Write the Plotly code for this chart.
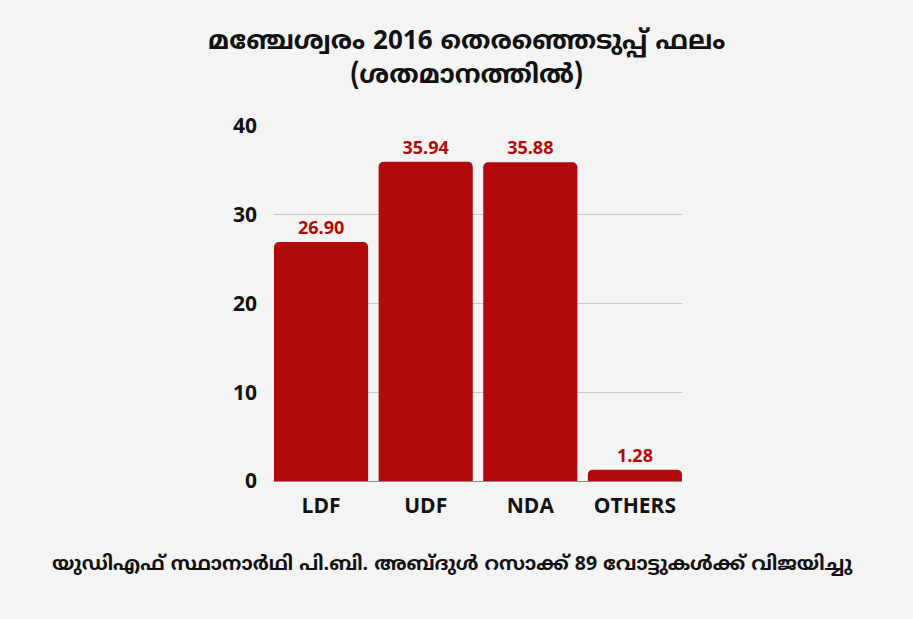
import plotly.graph_objects as go

categories = ["LDF", "UDF", "NDA", "OTHERS"]
values = [26.90, 35.94, 35.88, 1.28]
value_labels = ["26.90", "35.94", "35.88", "1.28"]
y_ticks = [0, 10, 20, 30, 40]

title_line1 = "മഞ്ചേശ്വരം 2016 തെരഞ്ഞെടുപ്പ് ഫലം"
title_line2 = "(ശതമാനത്തിൽ)"
footer = "യുഡിഎഫ് സ്ഥാനാർഥി പി.ബി. അബ്ദുൾ റസാക്ക് 89 വോട്ടുകൾക്ക് വിജയിച്ചു"

RED = "#b20a0a"
ml_font = "Noto Sans Malayalam, Noto Sans, Open Sans, sans-serif"

L, R, T, B = 274, 231, 125, 138
PW = 913 - L - R

fig = go.Figure(
    go.Bar(
        x=categories,
        y=values,
        marker=dict(color=RED, line=dict(width=0)),
        text=value_labels,
        textposition="outside",
        textfont=dict(family="Open Sans", size=18, color=RED, weight="bold"),
        cliponaxis=False,
    )
)

fig.update_layout(
    width=913,
    height=619,
    margin=dict(l=L, r=R, t=T, b=B),
    paper_bgcolor="#f4f4f4",
    plot_bgcolor="rgba(0,0,0,0)",
    bargap=0.1,
    barcornerradius=5,
    showlegend=False,
    font=dict(family="Open Sans", color="#111111"),
    xaxis=dict(
        range=[-0.45, 3.45],
        tickfont=dict(family="Open Sans", size=21, color="#111111", weight="bold"),
        showgrid=False,
        showline=False,
        ticks="",
        ticklabelstandoff=10,
    ),
    yaxis=dict(
        range=[0, 40.08],
        tickvals=y_ticks,
        tickfont=dict(family="Open Sans", size=21, color="#111111", weight="bold"),
        showgrid=True,
        gridcolor="#c8c8c8",
        gridwidth=1,
        zeroline=True,
        zerolinecolor="#8a8a8a",
        zerolinewidth=1,
        ticks="",
        ticklabelstandoff=16,
    ),
)

fig.add_annotation(
    text="<b>" + title_line1 + "<br>" + title_line2 + "</b>",
    x=(466 - L) / PW, xref="paper", xanchor="center",
    y=1.0, yref="paper", yanchor="bottom", yshift=30,
    showarrow=False,
    font=dict(family=ml_font, size=26, color="#111111"),
    align="center",
)
fig.add_annotation(
    text="<b>" + footer + "</b>",
    x=(452 - L) / PW, xref="paper", xanchor="center",
    y=0, yref="paper", yanchor="top", yshift=-70,
    showarrow=False,
    font=dict(family=ml_font, size=19.5, color="#111111"),
)

fig.write_html(
    "out.html",
    config={"displayModeBar": False},
    post_script="document.body.style.margin='0';document.body.style.padding='0';",
)
